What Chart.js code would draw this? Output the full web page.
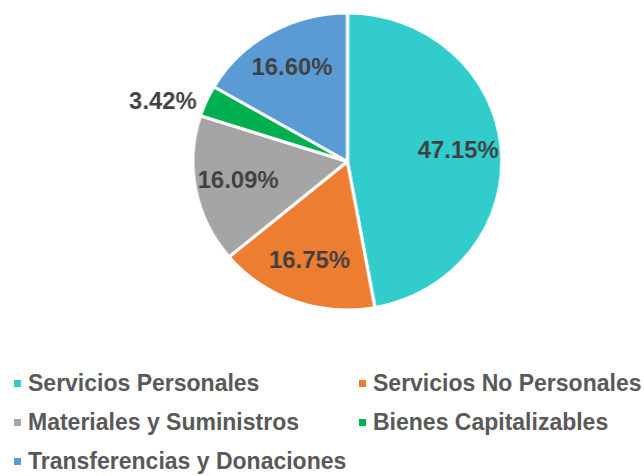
<!DOCTYPE html>
<html>
<head>
<meta charset="utf-8">
<script src="https://cdn.jsdelivr.net/npm/chart.js@4/dist/chart.umd.min.js"></script>
<style>
  body { margin: 0; background: #fff; font-family: "Liberation Sans", Arial, sans-serif; }
  #wrap { position: relative; width: 644px; height: 476px; overflow: hidden; }
  /* the source pie is slightly wider than tall */
  #chartBox { position: absolute; left: 0; top: 0; width: 620px; height: 323px; transform: scaleX(1.04); transform-origin: 0 0; }
  .leg { position: absolute; font-weight: bold; font-size: 23px; color: #595959; white-space: nowrap; line-height: 24px; }
  .leg i { position: absolute; left: -14px; top: 9px; width: 7px; height: 7px; }
</style>
</head>
<body>
<div id="wrap">
  <div id="chartBox"><canvas id="pieChart"></canvas></div>
</div>
<script>
const categories = ['Servicios Personales', 'Servicios No Personales', 'Materiales y Suministros', 'Bienes Capitalizables', 'Transferencias y Donaciones'];
const shares = [47.15, 16.75, 16.09, 3.42, 16.60];
const sliceColors = ['#33CCCC', '#ED7D31', '#A5A5A5', '#00B050', '#5B9BD5'];

// legend slots (two columns)
const legendPos = [[28, 371], [373, 371], [28, 410], [373, 410], [28, 449]];

function buildLegend() {
    const wrap = document.getElementById('wrap');
    categories.forEach(function(name, i) {
        const d = document.createElement('div');
        d.className = 'leg';
        d.style.left = legendPos[i][0] + 'px';
        d.style.top = legendPos[i][1] + 'px';
        d.innerHTML = '<i style="background:' + sliceColors[i] + '"></i>' + name;
        wrap.appendChild(d);
    });
}

const pctLabels = {
    id: 'pctLabels',
    afterDatasetsDraw(chart) {
        const ctx = chart.ctx;
        const meta = chart.getDatasetMeta(0);
        ctx.save();
        ctx.font = 'bold 23px "Liberation Sans", Arial, sans-serif';
        ctx.fillStyle = '#404040';
        ctx.textBaseline = 'middle';
        meta.data.forEach(function(arc, i) {
            const mid = (arc.startAngle + arc.endAngle) / 2;
            const val = shares[i].toFixed(2) + '%';
            let x, y;
            if (shares[i] < 5) {
                // small slice: label sits just outside the edge
                ctx.textAlign = 'right';
                x = arc.x + Math.cos(mid) * (arc.outerRadius + 10);
                y = arc.y + Math.sin(mid) * (arc.outerRadius + 10) + 6;
            } else {
                ctx.textAlign = 'center';
                const r = arc.outerRadius * 0.72;
                x = arc.x + Math.cos(mid) * r;
                y = arc.y + Math.sin(mid) * r;
            }
            ctx.fillText(val, x, y);
        });
        ctx.restore();
    }
};

function initializeChart() {
    const ctx = document.getElementById('pieChart').getContext('2d');
    new Chart(ctx, {
        type: 'pie',
        data: {
            labels: categories,
            datasets: [{
                data: shares,
                backgroundColor: sliceColors,
                borderColor: '#ffffff',
                borderWidth: 3
            }]
        },
        options: {
            responsive: true,
            maintainAspectRatio: false,
            animation: false,
            radius: 148.5,
            layout: { padding: { left: 48, top: 0, bottom: 0, right: 0 } },
            plugins: {
                legend: { display: false },
                tooltip: { enabled: false }
            }
        },
        plugins: [pctLabels]
    });
    buildLegend();
}

if (document.readyState === 'loading') {
    document.addEventListener('DOMContentLoaded', initializeChart);
} else {
    initializeChart();
}
</script>
</body>
</html>
